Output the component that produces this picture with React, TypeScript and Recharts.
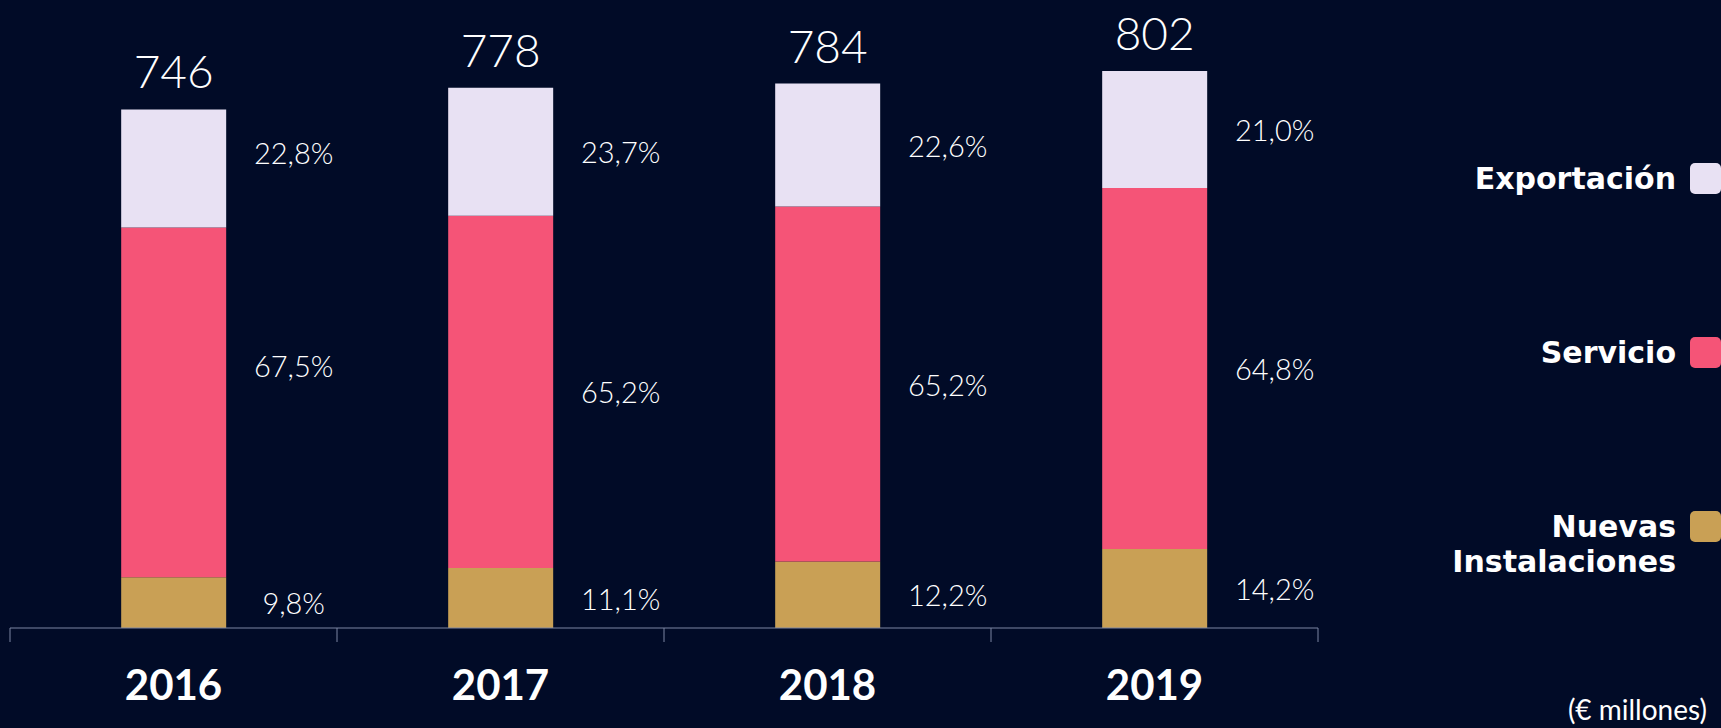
import React from 'react';
import { BarChart, Bar, XAxis, YAxis, LabelList, Legend } from 'recharts';

const YEARS = ['2016', '2017', '2018', '2019'];
const TOTALS = [746, 778, 784, 802];
const NUEVAS = [73.1, 86.4, 95.6, 113.9];
const SERVICIO = [503.6, 507.3, 511.2, 519.7];
const EXPORTACION = [170.1, 184.4, 177.2, 168.4];
const PCT_NUEVAS = ['9,8%', '11,1%', '12,2%', '14,2%'];
const PCT_SERVICIO = ['67,5%', '65,2%', '65,2%', '64,8%'];
const PCT_EXPORTACION = ['22,8%', '23,7%', '22,6%', '21,0%'];
const SERIES_NAMES = ['Nuevas Instalaciones', 'Servicio', 'Exportación'];
const UNIT_NOTE = '(€ millones)';

// label nudges (style only) for the first category, as placed in the original
const LABEL_NUDGE: Record<string, Record<string, number>> = {
  '2016': { pctE: -16, pctS: -37, pctN: 0 },
};

const BG = '#010b27';
const C_NUEVAS = '#c9a055';
const C_SERVICIO = '#f55477';
const C_EXPORT = '#e8e1f3';
const AXIS = '#7d86a3';

const data = YEARS.map((year, i) => ({
  year,
  nuevas: NUEVAS[i],
  servicio: SERVICIO[i],
  exportacion: EXPORTACION[i],
  total: TOTALS[i],
  pctN: PCT_NUEVAS[i],
  pctS: PCT_SERVICIO[i],
  pctE: PCT_EXPORTACION[i],
}));

const makePctLabel = (key: string) => (props: any) => {
  const { x, y, width, height, value, index } = props;
  const yr = YEARS[index];
  const dy = (LABEL_NUDGE[yr] && LABEL_NUDGE[yr][key]) || 0;
  return (
    <text
      x={Number(x) + Number(width) / 2 + 120}
      y={Number(y) + Number(height) / 2 + dy}
      textAnchor="middle"
      dominantBaseline="central"
      fill="#ffffff"
      fontFamily="Lato, sans-serif"
      fontWeight={300}
      fontSize={29}
    >
      {value}
    </text>
  );
};

const LabelN = makePctLabel('pctN');
const LabelS = makePctLabel('pctS');
const LabelE = makePctLabel('pctE');

const TotalLabel = (props: any) => {
  const { x, y, width, value } = props;
  return (
    <text
      x={Number(x) + Number(width) / 2}
      y={Number(y) - 21}
      textAnchor="middle"
      fill="#ffffff"
      fontFamily="Lato, sans-serif"
      fontWeight={300}
      fontSize={46}
    >
      {value}
    </text>
  );
};

const YearTick = (props: any) => {
  const { x, y, payload, index, visibleTicksCount, width } = props;
  const half = payload && typeof payload.offset === 'number' && payload.offset > 0
    ? payload.offset
    : Number(width) / Number(visibleTicksCount) / 2;
  const last = index === visibleTicksCount - 1;
  return (
    <g>
      <line x1={x - half} x2={x - half} y1={y} y2={y + 14} stroke={AXIS} strokeWidth={1} />
      {last && <line x1={x + half} x2={x + half} y1={y} y2={y + 14} stroke={AXIS} strokeWidth={1} />}
      <text
        x={x}
        y={y + 56}
        textAnchor="middle"
        dominantBaseline="central"
        fill="#ffffff"
        fontFamily="Lato, sans-serif"
        fontWeight={700}
        fontSize={42}
      >
        {payload.value}
      </text>
    </g>
  );
};

const LegendContent = (props: any) => {
  const items = [...(props.payload || [])].sort(
    (a: any, b: any) => SERIES_NAMES.indexOf(b.value) - SERIES_NAMES.indexOf(a.value)
  );
  return (
    <div style={{ position: 'relative', width: 421, height: 728 }}>
      {items.map((it: any, i: number) => (
        <div
          key={i}
          style={{
            position: 'absolute',
            right: 0,
            top: 161 + i * 174,
            display: 'flex',
            alignItems: 'flex-start',
          }}
        >
          <div
            style={{
              width: 260,
              textAlign: 'right',
              color: '#ffffff',
              fontFamily: '"DejaVu Sans", sans-serif',
              fontWeight: 700,
              fontSize: 30,
              lineHeight: '35px',
            }}
          >
            {it.value}
          </div>
          <div
            style={{
              width: 31,
              height: 31,
              marginLeft: 14,
              marginTop: 2,
              background: it.color,
              borderRadius: 5,
            }}
          />
        </div>
      ))}
      <div
        style={{
          position: 'absolute',
          right: 14,
          top: 693,
          color: '#ffffff',
          fontFamily: 'Lato, sans-serif',
          fontWeight: 400,
          fontSize: 28,
          lineHeight: '32px',
          whiteSpace: 'nowrap',
        }}
      >
        {UNIT_NOTE}
      </div>
    </div>
  );
};

export default function App() {
  return (
    <div style={{ position: 'absolute', left: 0, top: 0, width: 1721, height: 728, background: BG, overflow: 'hidden' }}>
      <BarChart
        width={1721}
        height={728}
        data={data}
        margin={{ top: 3, right: 403, left: 10, bottom: 40 }}
        barCategoryGap="34%"
      >
        <YAxis hide domain={[0, 900]} />
        <XAxis
          dataKey="year"
          height={60}
          axisLine={{ stroke: AXIS, strokeWidth: 1 }}
          tickLine={false}
          tickSize={0}
          tickMargin={0}
          tick={<YearTick />}
          interval={0}
        />
        <Legend
          layout="vertical"
          align="center"
          verticalAlign="middle"
          wrapperStyle={{ left: 1300, top: 0, width: 421, height: 728 }}
          content={<LegendContent />}
        />
        <Bar dataKey="nuevas" name={SERIES_NAMES[0]} stackId="a" fill={C_NUEVAS} isAnimationActive={false}>
          <LabelList dataKey="pctN" content={<LabelN />} />
        </Bar>
        <Bar dataKey="servicio" name={SERIES_NAMES[1]} stackId="a" fill={C_SERVICIO} isAnimationActive={false}>
          <LabelList dataKey="pctS" content={<LabelS />} />
        </Bar>
        <Bar dataKey="exportacion" name={SERIES_NAMES[2]} stackId="a" fill={C_EXPORT} isAnimationActive={false}>
          <LabelList dataKey="pctE" content={<LabelE />} />
          <LabelList dataKey="total" content={<TotalLabel />} />
        </Bar>
      </BarChart>
    </div>
  );
}
